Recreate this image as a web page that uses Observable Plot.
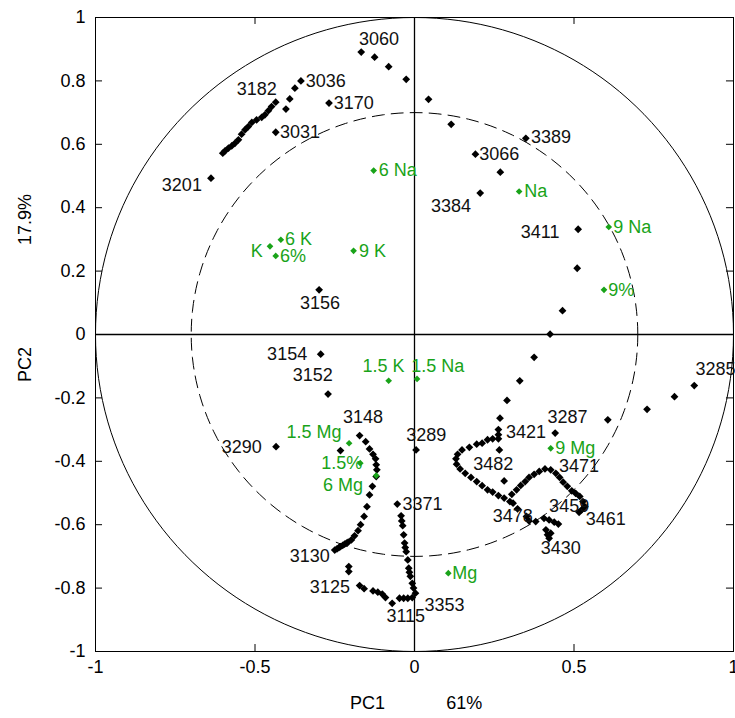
<!DOCTYPE html>
<html><head><meta charset="utf-8">
<script src="https://cdn.jsdelivr.net/npm/d3@7"></script>
<script src="https://cdn.jsdelivr.net/npm/@observablehq/plot@0.6"></script>
<style>body{margin:0;background:#fff;}</style>
</head><body><div id="chart"></div>
<script>
// Sample (wavenumber) loadings: [PC1, PC2]
const topArc = [[-0.167,0.891],[-0.125,0.875],[-0.081,0.845],[-0.026,0.805],[0.044,0.742],[0.115,0.663],[0.191,0.569],[0.269,0.512],[0.206,0.446],[0.349,0.619]];
const leftChain = [[-0.356,0.800],[-0.375,0.777],[-0.391,0.743],[-0.403,0.711],[-0.435,0.733],[-0.448,0.719],[-0.458,0.706],[-0.469,0.693],[-0.479,0.685],[-0.495,0.677],[-0.510,0.669],[-0.521,0.656],[-0.531,0.646],[-0.542,0.632],[-0.552,0.614],[-0.563,0.603],[-0.573,0.595],[-0.583,0.588],[-0.594,0.579],[-0.601,0.572],[-0.435,0.638],[-0.268,0.730],[-0.638,0.493],[-0.299,0.141]];
const rightArm = [[0.513,0.332],[0.510,0.209],[0.464,0.075],[0.425,0.001],[0.375,-0.072],[0.330,-0.146],[0.290,-0.208],[0.268,-0.264],[0.263,-0.300],[0.606,-0.269],[0.729,-0.236],[0.815,-0.196],[0.877,-0.161],[0.441,-0.311]];
const rightLoop = [[0.263,-0.316],[0.263,-0.329],[0.245,-0.329],[0.229,-0.332],[0.212,-0.343],[0.195,-0.346],[0.172,-0.356],[0.149,-0.364],[0.135,-0.378],[0.130,-0.392],[0.132,-0.409],[0.143,-0.424],[0.159,-0.438],[0.177,-0.451],[0.195,-0.464],[0.212,-0.477],[0.229,-0.490],[0.245,-0.497],[0.263,-0.508],[0.281,-0.516],[0.299,-0.527],[0.309,-0.532],[0.266,-0.364],[0.281,-0.462],[0.305,-0.504],[0.320,-0.490],[0.333,-0.476],[0.347,-0.464],[0.359,-0.451],[0.375,-0.441],[0.391,-0.432],[0.409,-0.424],[0.427,-0.427],[0.443,-0.438],[0.455,-0.451],[0.466,-0.466],[0.479,-0.479],[0.493,-0.493],[0.505,-0.501],[0.518,-0.511],[0.528,-0.527],[0.534,-0.543],[0.524,-0.553],[0.516,-0.561],[0.323,-0.550],[0.351,-0.574],[0.359,-0.588],[0.380,-0.590],[0.406,-0.580],[0.422,-0.585],[0.438,-0.592],[0.451,-0.598],[0.412,-0.616],[0.417,-0.632],[0.422,-0.643],[0.427,-0.627]];
const leftLower = [[-0.294,-0.062],[-0.271,-0.188],[-0.434,-0.354],[0.005,-0.364],[-0.172,-0.319],[-0.153,-0.338],[-0.141,-0.361],[-0.130,-0.378],[-0.122,-0.392],[-0.120,-0.411],[-0.118,-0.427],[-0.120,-0.448],[-0.132,-0.479],[-0.141,-0.506],[-0.232,-0.366],[-0.149,-0.543],[-0.158,-0.574],[-0.169,-0.600],[-0.177,-0.619],[-0.188,-0.635],[-0.198,-0.648],[-0.208,-0.655],[-0.213,-0.658],[-0.219,-0.661],[-0.225,-0.665],[-0.232,-0.669],[-0.237,-0.672],[-0.243,-0.676],[-0.250,-0.680],[-0.206,-0.732],[-0.206,-0.748],[-0.172,-0.792],[-0.158,-0.802],[-0.130,-0.809],[-0.115,-0.813],[-0.101,-0.819],[-0.091,-0.830],[-0.070,-0.848],[-0.047,-0.832],[-0.034,-0.832],[-0.021,-0.832],[-0.007,-0.830],[0.003,-0.816],[-0.054,-0.535],[-0.042,-0.572],[-0.037,-0.603],[-0.034,-0.632],[-0.031,-0.658],[-0.026,-0.685],[-0.021,-0.711],[-0.018,-0.737],[-0.013,-0.763],[-0.007,-0.785],[-0.003,-0.800],[-0.040,-0.588],[-0.029,-0.672],[-0.016,-0.750]];

// Sample labels: [text, PC1, PC2]
const sampleLabels = [["3060",-0.174,0.930],["3036",-0.341,0.800],["3182",-0.557,0.774],["3170",-0.253,0.730],["3031",-0.422,0.638],["3201",-0.792,0.472],["3389",0.365,0.621],["3066",0.203,0.569],["3384",0.052,0.404],["3411",0.333,0.322],["3156",-0.359,0.099],["3154",-0.462,-0.062],["3152",-0.382,-0.127],["3148",-0.224,-0.262],["3290",-0.604,-0.356],["3289",-0.026,-0.319],["3285",0.881,-0.111],["3287",0.417,-0.262],["3421",0.287,-0.308],["3482",0.184,-0.409],["3471",0.453,-0.416],["3459",0.422,-0.543],["3461",0.537,-0.583],["3478",0.245,-0.574],["3430",0.396,-0.674],["3371",-0.038,-0.535],["3130",-0.391,-0.700],["3125",-0.328,-0.798],["3353",0.031,-0.855],["3115",-0.088,-0.890]];

// Variable loadings (green): [text, PC1, PC2]
const varPoints = [["K",-0.453,0.278],["6 K",-0.419,0.299],["6%",-0.435,0.248],["9 K",-0.191,0.264],["6 Na",-0.128,0.517],["Na",0.328,0.451],["9 Na",0.609,0.339],["9%",0.594,0.141],["1.5 K",-0.081,-0.146],["1.5 Na",0.008,-0.140],["1.5 Mg",-0.205,-0.343],["1.5%",-0.170,-0.406],["6 Mg",-0.120,-0.445],["9 Mg",0.427,-0.359],["Mg",0.106,-0.753]];
const varLabels = [["K",-0.513,0.264],["6 K",-0.406,0.299],["6%",-0.422,0.248],["9 K",-0.174,0.264],["6 Na",-0.112,0.517],["Na",0.344,0.451],["9 Na",0.623,0.339],["9%",0.607,0.141],["1.5 K",-0.163,-0.101],["1.5 Na",-0.010,-0.101],["1.5 Mg",-0.401,-0.308],["1.5%",-0.292,-0.406],["6 Mg",-0.287,-0.474],["9 Mg",0.441,-0.359],["Mg",0.118,-0.753]];

const xTicks = [-1,-0.5,0,0.5,1];
const yTicks = [-1,-0.8,-0.6,-0.4,-0.2,0,0.2,0.4,0.6,0.8,1];
const xTitle = [["PC1",-0.147],["61%",0.156]];
const yTitle = [["PC2",-0.095],["17.9%",0.363]];
const outerRadius = 1, innerRadius = 0.7;

const samples = [...topArc, ...leftChain, ...rightArm, ...rightLoop, ...leftLower];
const angles = d3.range(0, 361, 2).map(a => a * Math.PI / 180);
const circ = r => angles.map(a => [r * Math.cos(a), r * Math.sin(a)]);
const green = "#19a319";
const tk = 0.022;
const FS = 18;
const FONT = "Liberation Sans, Arial, sans-serif";

const chart = Plot.plot({
  width: 735, height: 718,
  marginLeft: 95, marginRight: 2, marginTop: 17, marginBottom: 67,
  style: {fontFamily: FONT, fontSize: FS + "px", background: "#fff", color: "#000"},
  x: {domain: [-1, 1], axis: null},
  y: {domain: [-1, 1], axis: null},
  marks: [
    Plot.line(circ(outerRadius), {x: d => d[0], y: d => d[1], stroke: "#000", strokeWidth: 1}),
    Plot.line(circ(innerRadius), {x: d => d[0], y: d => d[1], stroke: "#000", strokeWidth: 1, strokeDasharray: "12,7"}),
    Plot.ruleX([0], {stroke: "#000", strokeWidth: 1.3}),
    Plot.ruleY([0], {stroke: "#000", strokeWidth: 1.3}),
    Plot.ruleX(xTicks, {x: d => d, y1: -1, y2: -1 + tk, stroke: "#000"}),
    Plot.ruleX(xTicks, {x: d => d, y1: 1, y2: 1 - tk, stroke: "#000"}),
    Plot.ruleY(yTicks, {y: d => d, x1: -1, x2: -1 + tk, stroke: "#000"}),
    Plot.ruleY(yTicks, {y: d => d, x1: 1, x2: 1 - tk, stroke: "#000"}),
    Plot.frame({stroke: "#000", strokeWidth: 1}),
    Plot.text(xTicks, {x: d => d, frameAnchor: "bottom", lineAnchor: "middle", text: d => String(d), dy: 16, fontSize: FS, fill: "#000"}),
    Plot.text(yTicks, {y: d => d, frameAnchor: "left", lineAnchor: "middle", text: d => String(d), dx: -10, textAnchor: "end", fontSize: FS, fill: "#000"}),
    Plot.text(xTitle, {x: d => d[1], frameAnchor: "bottom", lineAnchor: "middle", text: d => d[0], dy: 52, fontSize: FS, fill: "#000"}),
    Plot.text(yTitle, {y: d => d[1], frameAnchor: "left", lineAnchor: "middle", textAnchor: "middle", text: d => d[0], dx: -70, rotate: -90, fontSize: FS, fill: "#000"}),
    Plot.dot(samples, {x: d => d[0], y: d => d[1], symbol: "diamond2", r: 3.5, fill: "#000", stroke: "none"}),
    Plot.dot(varPoints, {x: d => d[1], y: d => d[2], symbol: "diamond2", r: 3, fill: green, stroke: "none"}),
    Plot.text(sampleLabels, {x: d => d[1], y: d => d[2], text: d => d[0], textAnchor: "start", fontSize: FS, fill: "#111"}),
    Plot.text(varLabels, {x: d => d[1], y: d => d[2], text: d => d[0], textAnchor: "start", fontSize: FS, fill: green})
  ]
});
document.getElementById("chart").appendChild(chart);
</script>
</body></html>
